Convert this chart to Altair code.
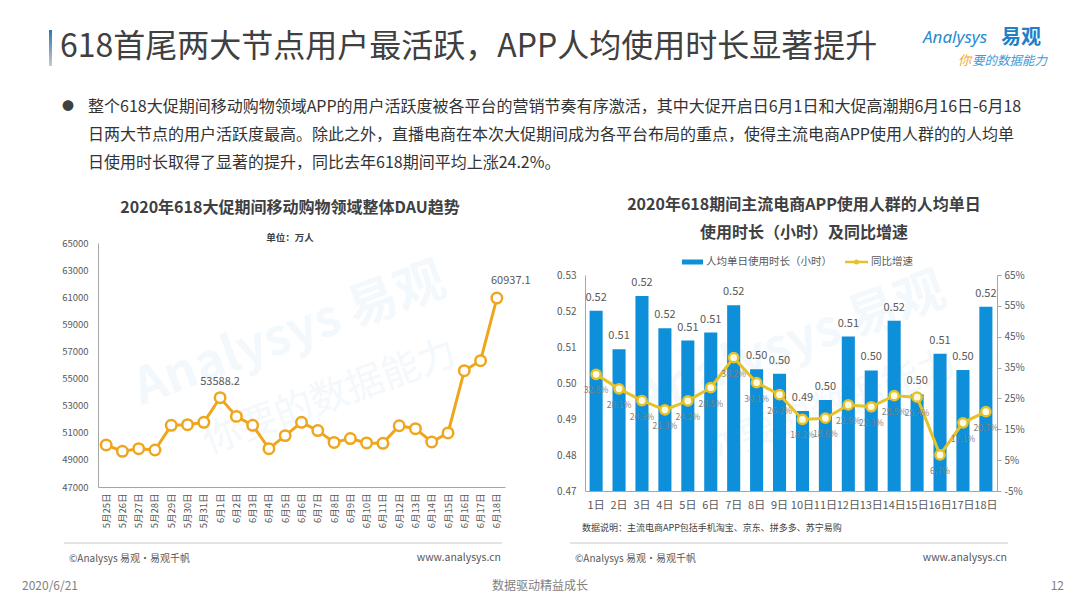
import altair as alt
import pandas as pd

W, H = 1080, 608
FONT = "Noto Sans CJK SC"
ORANGE = "#EFA61E"
YELLOW = "#E5C12A"
BLUE = "#0D8FD9"
AXIS_C = "#A6A6A6"
LAB_C = "#595959"

# ---------------- data ----------------
dau_dates = ["5月25日", "5月26日", "5月27日", "5月28日", "5月29日", "5月30日", "5月31日",
             "6月1日", "6月2日", "6月3日", "6月4日", "6月5日", "6月6日", "6月7日", "6月8日",
             "6月9日", "6月10日", "6月11日", "6月12日", "6月13日", "6月14日", "6月15日",
             "6月16日", "6月17日", "6月18日"]
dau_values = [50100, 49630, 49830, 49730, 51550, 51600, 51770, 53588.2, 52210, 51550,
              49830, 50790, 51770, 51160, 50290, 50570, 50250, 50220, 51520, 51300,
              50320, 50990, 55580, 56320, 60937.1]
dau_ticks = [47000, 49000, 51000, 53000, 55000, 57000, 59000, 61000, 63000, 65000]

days = ["1日", "2日", "3日", "4日", "5日", "6日", "7日", "8日", "9日", "10日",
        "11日", "12日", "13日", "14日", "15日", "16日", "17日", "18日"]
usage_hours = [0.5201, 0.5094, 0.5242, 0.5152, 0.5118, 0.5140, 0.5216, 0.5038, 0.5026,
               0.4922, 0.4953, 0.5129, 0.5035, 0.5173, 0.4969, 0.5081, 0.5036, 0.5212]
usage_ticks = [0.47, 0.48, 0.49, 0.50, 0.51, 0.52, 0.53]
growth_pct = [32.8, 28.1, 24.3, 21.3, 24.2, 28.5, 38.2, 30.1, 26.2,
              18.2, 18.6, 22.9, 22.3, 25.9, 25.4, 6.7, 17.1, 20.7]
growth_ticks = [-5, 5, 15, 25, 35, 45, 55, 65]

title_text = "618首尾两大节点用户最活跃，APP人均使用时长显著提升"
bullet_lines = [
    "整个618大促期间移动购物领域APP的用户活跃度被各平台的营销节奏有序激活，其中大促开启日6月1日和大促高潮期6月16日-6月18",
    "日两大节点的用户活跃度最高。除此之外，直播电商在本次大促期间成为各平台布局的重点，使得主流电商APP使用人群的的人均单",
    "日使用时长取得了显著的提升，同比去年618期间平均上涨24.2%。",
]
left_title = "2020年618大促期间移动购物领域整体DAU趋势"
left_unit = "单位：万人"
right_title = ["2020年618期间主流电商APP使用人群的人均单日", "使用时长（小时）及同比增速"]
legend_names = ["人均单日使用时长（小时）", "同比增速"]
note_text = "数据说明：主流电商APP包括手机淘宝、京东、拼多多、苏宁易购"
source_text = "©Analysys 易观·易观千帆"
site_text = "www.analysys.cn"
footer = ["2020/6/21", "数据驱动精益成长", "12"]


# ---------------- helpers ----------------
def label(text, x, y, size, color="#404040", align="left", weight="normal",
          style="normal", angle=0, opacity=1.0, font=FONT):
    return alt.Chart(pd.DataFrame({"t": [text]})).mark_text(
        align=align, baseline="middle", fontSize=size, color=color, fontWeight=weight,
        fontStyle=style, angle=angle, opacity=opacity, font=font
    ).encode(x=alt.value(x), y=alt.value(y), text="t:N")


def hline(x1, x2, y, color, width):
    return alt.Chart(pd.DataFrame({"a": [0]})).mark_rule(
        color=color, strokeWidth=width
    ).encode(x=alt.value(x1), x2=alt.value(x2), y=alt.value(y))


# ---------------- left chart ----------------
ld = pd.DataFrame({"date": dau_dates, "dau": dau_values})
lx = alt.X("date:N", sort=dau_dates, title=None,
           scale=alt.Scale(type="point", padding=0.5, range=[98, 505]),
           axis=alt.Axis(orient="bottom", offset=487 - H, labelAngle=270, labelFontSize=9.5,
                         labelColor=LAB_C, ticks=False, domainColor=AXIS_C, labelPadding=6,
                         labelOverlap=False, grid=False, labelFont=FONT))
ly = alt.Y("dau:Q", title=None,
           scale=alt.Scale(domain=[47000, 65000], range=[487, 243], zero=False, nice=False),
           axis=alt.Axis(orient="left", offset=-98, values=dau_ticks, format="d", ticks=False,
                         domainColor=AXIS_C, labelFontSize=9.5, labelColor=LAB_C,
                         labelPadding=10, grid=False, labelFont=FONT))
base_l = alt.Chart(ld).encode(x=lx, y=ly)
l_line = base_l.mark_line(color=ORANGE, strokeWidth=3)
l_pts = base_l.mark_point(shape="circle", filled=True, fill="#FFFFFF", stroke=ORANGE,
                          strokeWidth=2.5, size=110, opacity=1)
l_lab1 = base_l.transform_filter(alt.datum.date == "6月1日").mark_text(
    dy=-16, fontSize=11, color=LAB_C).encode(text=alt.Text("dau:Q", format=".1f"))
l_lab2 = base_l.transform_filter(alt.datum.date == "6月18日").mark_text(
    dy=-17, dx=14, fontSize=11, color=LAB_C).encode(text=alt.Text("dau:Q", format=".1f"))
left = alt.layer(l_line, l_pts, l_lab1, l_lab2)

# ---------------- right chart ----------------
rd = pd.DataFrame({"day": days, "usage": usage_hours, "growth": growth_pct})
rx = alt.X("day:N", sort=days, title=None,
           scale=alt.Scale(type="band", paddingInner=0.43, paddingOuter=0.2, range=[585, 997]),
           axis=alt.Axis(orient="bottom", offset=491 - H, labelAngle=0, ticks=False,
                         labelFontSize=11, labelColor=LAB_C, labelPadding=8,
                         domainColor=AXIS_C, grid=False, labelFont=FONT))
ry1 = alt.Y("usage:Q", title=None,
            scale=alt.Scale(domain=[0.47, 0.53], range=[491, 275], zero=False, nice=False),
            axis=alt.Axis(orient="left", offset=-585, values=usage_ticks, format=".2f",
                          ticks=False, domainColor=AXIS_C, labelFontSize=10,
                          labelColor=LAB_C, labelPadding=9, grid=False, labelFont=FONT))
ry2 = alt.Y("growth:Q", title=None,
            scale=alt.Scale(domain=[-5, 65], range=[491, 275], zero=False, nice=False),
            axis=alt.Axis(orient="right", offset=997 - W, values=growth_ticks,
                          labelExpr="datum.value + '%'", ticks=True, tickSize=4,
                          tickColor=AXIS_C, domainColor=AXIS_C, labelFontSize=10,
                          labelColor=LAB_C, labelPadding=3, grid=False, labelFont=FONT))
bars = alt.Chart(rd).mark_bar(color=BLUE).encode(x=rx, y=ry1, y2=alt.datum(0.47))
bar_labs = alt.Chart(rd).mark_text(dy=-13, fontSize=11, color=LAB_C).encode(
    x=rx, y=ry1, text=alt.Text("usage:Q", format=".2f"))
r_line = alt.Chart(rd).mark_line(color=YELLOW, strokeWidth=3).encode(x=rx, y=ry2)
r_pts = alt.Chart(rd).mark_point(shape="circle", filled=True, fill="#FFFBE3", stroke=YELLOW,
                                 strokeWidth=2.5, size=85, opacity=1).encode(x=rx, y=ry2)
r_labs = alt.Chart(rd).transform_calculate(
    lab="format(datum.growth, '.1f') + '%'"
).mark_text(dy=16, fontSize=8.6, color="#7F7F7F").encode(x=rx, y=ry2, text="lab:N")
right = alt.layer(alt.layer(bars, bar_labs),
                  alt.layer(r_line, r_pts, r_labs)).resolve_scale(y="independent")

# ---------------- slide decoration ----------------
WM = "#DCEDF8"
WM_OP = 0.35
watermark = [
    label("Analysys 易观", 290, 335, 50, color=WM, align="center", weight="bold", angle=340, opacity=WM_OP),
    label("你要的数据能力", 330, 398, 38, color=WM, align="center", angle=340, opacity=WM_OP),
    label("Analysys 易观", 790, 345, 50, color=WM, align="center", weight="bold", angle=340, opacity=WM_OP),
    label("你要的数据能力", 830, 408, 38, color=WM, align="center", angle=340, opacity=WM_OP),
]

title_bar = alt.Chart(pd.DataFrame({"a": [0]})).mark_rect(
    fill=alt.Gradient(gradient="linear",
                      stops=[alt.GradientStop(color="#2E75B6", offset=0),
                             alt.GradientStop(color="#C9C9C9", offset=1)],
                      x1=0, x2=0, y1=0, y2=1)
).encode(x=alt.value(49), x2=alt.value(52), y=alt.value(30), y2=alt.value(66))

texts = [
    label(title_text, 60, 47, 32, color="#404040"),
    label("Analysys", 923, 38, 17, color="#2A8BD0", style="italic", font="Noto Sans"),
    label("易观", 1001, 38, 20, color="#1F7FC8", weight="bold"),
    label("你", 958, 61, 13, color="#F5A623", style="italic"),
    label("要的数据能力", 972, 61, 12.5, color="#3F9AD8", style="italic"),
    label("●", 68, 107, 12, color="#404040", align="center"),
    label(bullet_lines[0], 88, 107, 16, color="#333333"),
    label(bullet_lines[1], 88, 135, 16, color="#333333"),
    label(bullet_lines[2], 88, 163, 16, color="#333333"),
    label(left_title, 290, 208, 16, color="#404040", align="center", weight="bold"),
    label(left_unit, 290, 238, 9.5, color="#404040", align="center", weight="bold"),
    label(right_title[0], 804, 205, 16, color="#404040", align="center", weight="bold"),
    label(right_title[1], 804, 233, 16, color="#404040", align="center", weight="bold"),
    label(legend_names[0], 706, 262, 10.5, color=LAB_C),
    label(legend_names[1], 871, 262, 10.5, color=LAB_C),
    label(note_text, 582, 528, 9, color="#404040"),
    label(source_text, 69, 559, 10, color=LAB_C),
    label(site_text, 501, 558, 10.5, color=LAB_C, align="right"),
    label(source_text, 575, 559, 10, color=LAB_C),
    label(site_text, 1007, 558, 10.5, color=LAB_C, align="right"),
    label(footer[0], 22, 586, 12, color="#7F7F7F"),
    label(footer[1], 540, 586, 12, color="#7F7F7F", align="center"),
    label(footer[2], 1064, 586, 12, color="#7F7F7F", align="right"),
]

legend_rect = alt.Chart(pd.DataFrame({"a": [0]})).mark_rect(color=BLUE).encode(
    x=alt.value(682), x2=alt.value(703), y=alt.value(259.5), y2=alt.value(264.5))
legend_line = hline(845, 868, 262, YELLOW, 2.5)
legend_dot = alt.Chart(pd.DataFrame({"a": [0]})).mark_point(
    shape="circle", filled=True, color=YELLOW, size=25, opacity=1
).encode(x=alt.value(856.5), y=alt.value(262))

seps = [hline(64, 502, 543, "#C8C8C8", 1), hline(570, 1008, 543, "#C8C8C8", 1)]

chart = alt.layer(
    *watermark, title_bar, *seps, left, right, legend_rect, legend_line, legend_dot, *texts
).resolve_scale(
    x="independent", y="independent"
).properties(
    width=W, height=H, autosize=alt.AutoSizeParams(type="none"), padding=0, background="white"
).configure(font=FONT).configure_view(stroke=None)

chart.save("out.html", embed_options={"renderer": "svg", "actions": False})
